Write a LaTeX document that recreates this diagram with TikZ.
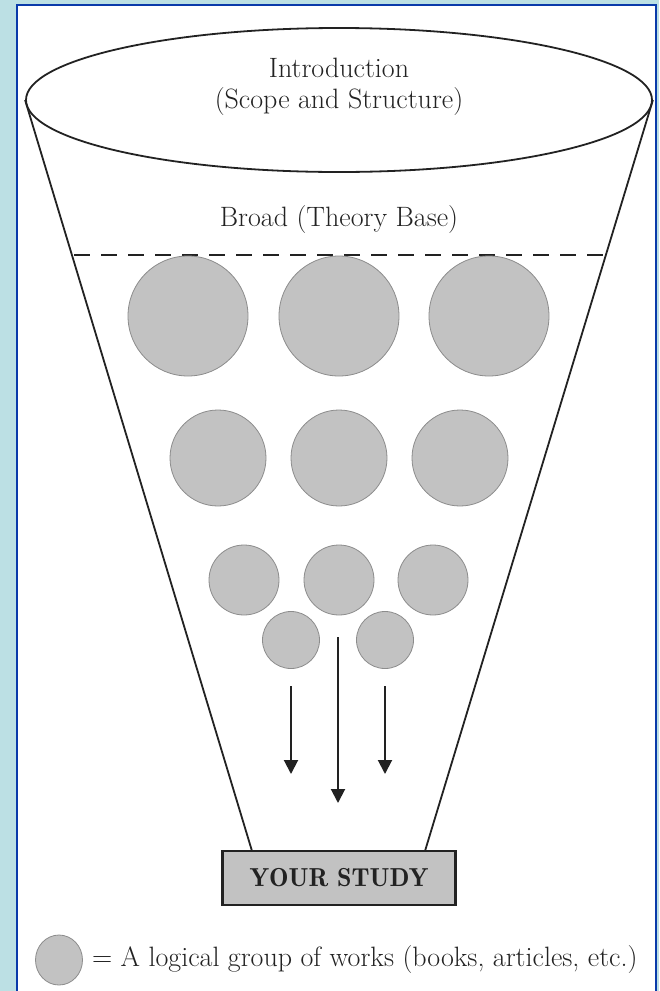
\documentclass[tikz,border=0pt]{standalone}
\usepackage{tikz}
\usetikzlibrary{arrows.meta,shapes.geometric}
\definecolor{frame}{HTML}{BCE0E4}
\definecolor{rim}{HTML}{0A3AAA}
\definecolor{ink}{HTML}{222222}
\definecolor{work}{HTML}{C2C2C2}
\definecolor{edge}{HTML}{8C8C8C}

\begin{document}
\begin{tikzpicture}[x=1pt, y=-1pt,
  txt/.style={font=\fontsize{28}{31}\selectfont, text=ink, align=center},
  grp/.style={circle, fill=work, draw=edge, line width=0.8pt, inner sep=0pt},
  arr/.style={-{Triangle[length=14pt, width=14pt]}, line width=2pt, ink},
  funnel/.style={line width=1.8pt, ink}]
  \useasboundingbox (0,0) rectangle (659,991);
  \fill[frame] (0,0) rectangle (659,991);
  \draw[rim, fill=white, line width=2.4pt] (17,5) rectangle (656,1005);
  % top of the funnel
  \node[ellipse, draw=ink, line width=1.8pt, minimum width=626pt, minimum height=144pt] (intro) at (339,100) {};
  \node[txt] (introtxt) at (339,87) {Introduction\\(Scope and Structure)};
  \node[txt] (broad) at (339,220) {Broad (Theory Base)};
  % bottom of the funnel
  \node[draw=ink, fill=work, line width=2.2pt, minimum width=233pt, minimum height=54pt,
        font=\fontsize{26}{28}\fontseries{b}\selectfont, text=ink] (study) at (339,878) {YOUR STUDY};
  \coordinate (sl) at (252,851);
  \coordinate (sr) at (425,851);
  \draw[funnel] (intro.west) -- (sl);
  \draw[funnel] (intro.east) -- (sr);
  \coordinate (dl) at (74,255);
  \coordinate (dr) at (604,255);
  \draw[ink, line width=2pt, dash pattern=on 16pt off 11pt] (dl) -- (dr);
  % groups of works
  \foreach \x [count=\i] in {188,339,489} {\node[grp, minimum size=120pt] (a\i) at (\x,316) {};}
  \foreach \x [count=\i] in {218,339,460} {\node[grp, minimum size=96pt] (b\i) at (\x,458) {};}
  \foreach \x [count=\i] in {244,339,433} {\node[grp, minimum size=70pt] (c\i) at (\x,580) {};}
  \foreach \x [count=\i] in {291,385} {\node[grp, minimum size=57pt] (d\i) at (\x,640) {};}
  % narrowing down
  \coordinate (l0) at (291,686); \coordinate (l1) at (291,774);
  \coordinate (m0) at (338,637); \coordinate (m1) at (338,803);
  \coordinate (r0) at (385,686); \coordinate (r1) at (385,774);
  \draw[arr] (l0) -- (l1);
  \draw[arr] (m0) -- (m1);
  \draw[arr] (r0) -- (r1);
  % legend
  \node[ellipse, fill=work, draw=edge, line width=0.8pt, minimum width=47pt, minimum height=50pt, inner sep=0pt] (key) at (59,960) {};
  \node[txt, anchor=west, inner sep=0pt, xshift=9pt] (keytxt) at (key.east) {= A logical group of works (books, articles, etc.)};
\end{tikzpicture}
\end{document}
